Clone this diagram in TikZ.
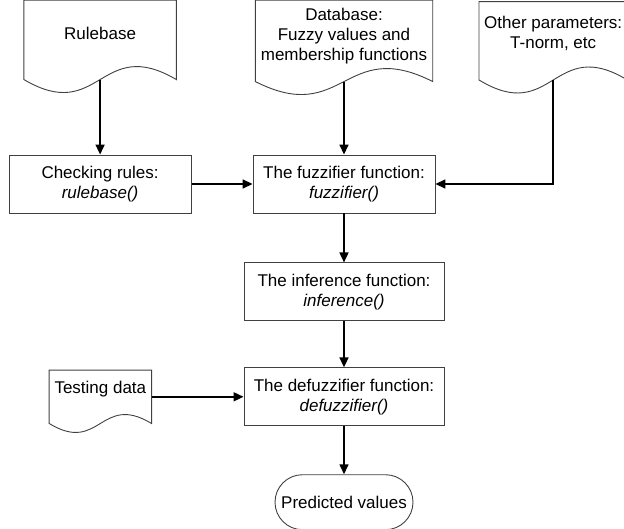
\documentclass[tikz,border=0pt]{standalone}
\usepackage{fontspec}
\setmainfont{Liberation Sans}
\usetikzlibrary{positioning, calc, arrows.meta}

\newcommand{\docoutline}[2]{%
  \draw[docline] (#1.south west) -- (#1.north west) -- (#1.north east) -- (#1.south east)
    .. controls ($(#1.south)+(0,-#2)$) and ($(#1.south)+(0,#2)$) .. cycle;
}

\begin{document}
\begin{tikzpicture}[
    x=1pt, y=-1pt,
    font=\fontsize{17}{20}\selectfont,
    box/.style={rectangle, draw=black!75, line width=0.9pt, minimum width=182pt, minimum height=58pt, align=center, inner sep=2pt},
    doc/.style={rectangle, align=center, inner sep=0pt, text depth=14pt},
    docline/.style={draw=black!75, line width=0.9pt},
    arrow/.style={-{Triangle[length=10pt, width=9pt]}, line width=1.6pt}
]
    \useasboundingbox (0,0) rectangle (624,529);
    \clip (0,0) rectangle (624,529);

    \node[box] (fuzz) at (344,184) {The fuzzifier function:\\\textit{fuzzifier()}};
    \node[box, left=61pt of fuzz] (check) {Checking rules:\\\textit{rulebase()}};
    \node[box, minimum width=200pt, below=49pt of fuzz] (infer) {The inference function:\\\textit{inference()}};
    \node[box, minimum width=200pt, below=46pt of infer] (defuzz) {The defuzzifier function:\\\textit{defuzzifier()}};
    \node[box, rounded corners=27.5pt, minimum width=138pt, minimum height=55pt, below=48pt of defuzz] (predicted) {Predicted values};

    \node[doc, minimum width=152pt, minimum height=79pt, above=75pt of check] (rulebase) {Rulebase};
    \node[doc, minimum width=177pt, minimum height=81pt, above=73pt of fuzz] (database) {Database:\\Fuzzy values and\\membership functions};
    \node[doc, text depth=16pt, minimum width=148pt, minimum height=78pt, anchor=south west] at (479,80) (params) {Other parameters:\\T-norm, etc};
    \node[doc, text depth=18pt, minimum width=102pt, minimum height=53pt, left=92pt of defuzz] (testing) {Testing data};

    \docoutline{rulebase}{45}
    \docoutline{database}{45}
    \docoutline{params}{45}
    \docoutline{testing}{31}

    \draw[arrow] (rulebase) -- (check);
    \draw[arrow] (database) -- (fuzz);
    \draw[arrow] (check) -- (fuzz);
    \draw[arrow] (params.south) |- (fuzz.east);
    \draw[arrow] (fuzz) -- (infer);
    \draw[arrow] (infer) -- (defuzz);
    \draw[arrow] (testing) -- (defuzz);
    \draw[arrow] (defuzz) -- (predicted);

\end{tikzpicture}
\end{document}
